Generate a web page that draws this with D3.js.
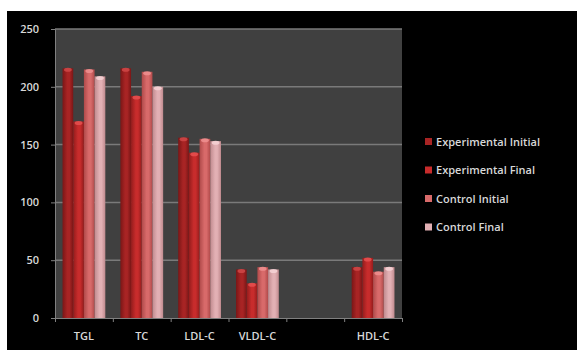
<!DOCTYPE html>
<html>
<head>
<meta charset="utf-8">
<script src="https://cdn.jsdelivr.net/npm/d3@7"></script>
<style>
  body { margin: 0; background: #fff; }
  svg { display: block; }
  .axis text { fill: #d8d8d8; font-family: "Open Sans", sans-serif; font-size: 11px; font-weight: 600; }
  .legend text { fill: #d8d8d8; font-family: "Open Sans", sans-serif; font-size: 11px; font-weight: 600; }
</style>
</head>
<body>
<svg id="chart" width="577" height="350"></svg>
<script>
const categories = ['TGL', 'TC', 'LDL-C', 'VLDL-C', '', 'HDL-C'];
const seriesNames = ['Experimental Initial', 'Experimental Final', 'Control Initial', 'Control Final'];
const expInitial = [216, 216, 156, 42, null, 44];
const expFinal = [170, 192, 143, 30, null, 52];
const ctrlInitial = [215, 213, 155, 44, null, 40];
const ctrlFinal = [209, 200, 153, 42, null, 44];
const yTicks = [0, 50, 100, 150, 200, 250];

const seriesValues = [expInitial, expFinal, ctrlInitial, ctrlFinal];
// base, edge, highlight
const colors = [
  ['#a82424', '#7a1616', '#d04848'],
  ['#c82c2c', '#941c1c', '#e85050'],
  ['#d86a6a', '#b04a4a', '#f09090'],
  ['#e2b0b4', '#c08a8e', '#f6d4d6'],
];

const margin = { top: 29, right: 175, bottom: 32, left: 55 };
const svg = d3.select('#chart');
const W = 577, H = 350;
const width = 402 - margin.left;
const height = 318 - margin.top;

svg.append('rect').attr('x', 7).attr('y', 11).attr('width', W - 7).attr('height', H - 11).attr('fill', '#000');

const defs = svg.append('defs');
colors.forEach((c, i) => {
  const g = defs.append('linearGradient').attr('id', `grad${i}`).attr('x1', 0).attr('x2', 1).attr('y1', 0).attr('y2', 0);
  g.append('stop').attr('offset', '0%').attr('stop-color', c[1]);
  g.append('stop').attr('offset', '45%').attr('stop-color', c[0]);
  g.append('stop').attr('offset', '65%').attr('stop-color', c[0]);
  g.append('stop').attr('offset', '100%').attr('stop-color', c[1]);
});

const g = svg.append('g').attr('transform', `translate(${margin.left},${margin.top})`);

const x0 = d3.scaleBand().domain(d3.range(categories.length)).range([0, width]).paddingInner(0.26).paddingOuter(0.13);
const x1 = d3.scaleBand().domain(d3.range(seriesNames.length)).range([0, x0.bandwidth()]);
const y = d3.scaleLinear().domain([0, 250]).range([height, 0]);

g.append('rect').attr('width', width).attr('height', height).attr('fill', '#404040');

g.append('g')
  .selectAll('line')
  .data(yTicks.slice(1))
  .join('line')
  .attr('x1', 0).attr('x2', width)
  .attr('y1', d => y(d)).attr('y2', d => y(d))
  .attr('stroke', '#7a7a7a').attr('stroke-width', 1.5);

// band boundaries for x ticks
const step = width / categories.length;
const xAxisScale = d3.scaleLinear().domain([0, categories.length]).range([0, width]);

const groups = g.selectAll('.grp')
  .data(categories)
  .join('g')
  .attr('transform', (d, i) => `translate(${x0(i)},0)`);

seriesValues.forEach((vals, s) => {
  groups.filter((d, i) => vals[i] != null)
    .append('rect')
    .attr('x', x1(s))
    .attr('width', x1.bandwidth())
    .attr('y', (d) => y(vals[categories.indexOf(d)]))
    .attr('height', d => height - y(vals[categories.indexOf(d)]))
    .attr('fill', `url(#grad${s})`);
  groups.filter((d, i) => vals[i] != null)
    .append('ellipse')
    .attr('cx', x1(s) + x1.bandwidth() / 2)
    .attr('cy', d => y(vals[categories.indexOf(d)]) + 1.5)
    .attr('rx', x1.bandwidth() / 2 - 1.5)
    .attr('ry', 2)
    .attr('fill', colors[s][2])
    .attr('opacity', 0.85);
});

// axes
const yAxis = g.append('g')
  .attr('class', 'axis')
  .call(d3.axisLeft(y).tickValues(yTicks).tickSize(4).tickPadding(12));
yAxis.select('.domain').attr('stroke', '#808080');
yAxis.selectAll('.tick line').attr('stroke', '#808080');

const xAxis = g.append('g')
  .attr('class', 'axis')
  .attr('transform', `translate(0,${height})`)
  .call(d3.axisBottom(xAxisScale).tickValues(d3.range(categories.length + 1)).tickSize(4).tickFormat(''));
xAxis.select('.domain').attr('stroke', '#808080');
xAxis.selectAll('.tick line').attr('stroke', '#808080');

g.append('g')
  .attr('class', 'axis')
  .selectAll('text')
  .data(categories)
  .join('text')
  .attr('x', (d, i) => x0(i) + x0.bandwidth() / 2)
  .attr('y', height + 22)
  .attr('text-anchor', 'middle')
  .text(d => d);

// legend
const legend = svg.append('g').attr('class', 'legend').attr('transform', 'translate(425,142)');
const items = legend.selectAll('g')
  .data(seriesNames)
  .join('g')
  .attr('transform', (d, i) => `translate(0,${i * 28.5})`);
items.append('rect')
  .attr('x', 0).attr('y', -4).attr('width', 7).attr('height', 7)
  .attr('fill', (d, i) => colors[i][0]);
items.append('text')
  .attr('x', 11).attr('y', 0).attr('dy', '0.35em')
  .text(d => d);
</script>
</body>
</html>
